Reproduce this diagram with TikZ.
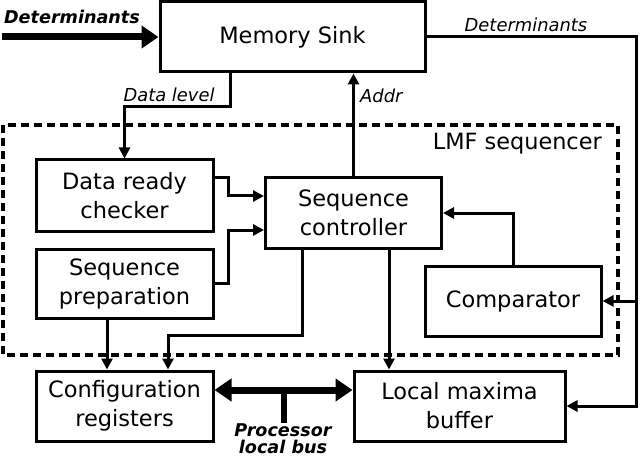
\documentclass[tikz,border=0pt]{standalone}
\usepackage{fontspec}
\setmainfont{DejaVu Sans}
\usetikzlibrary{arrows.meta,calc}
\begin{document}
\begin{tikzpicture}[x=1pt,y=-1pt,
  box/.style={draw,line width=3pt,align=center,inner sep=0pt,
    font=\fontsize{22.5}{29}\selectfont},
  arr/.style={line width=3pt,-{Triangle[length=11pt,width=11pt]}},
  bigarr/.style={line width=7pt,-{Triangle[length=17pt,width=22pt]}},
  busarr/.style={line width=7pt,{Triangle[length=17pt,width=22pt]}-{Triangle[length=17pt,width=22pt]}},
  lbl/.style={inner sep=0pt,font=\fontsize{17.9}{20}\selectfont\itshape},
  blbl/.style={inner sep=0pt,font=\fontsize{17.6}{20}\selectfont\bfseries\itshape},
]
\useasboundingbox (0,0) rectangle (642,457);
% dashed container
\draw[line width=3.5pt,dash pattern=on 8pt off 5pt] (3,125) rectangle (618,355);
\node[inner sep=0pt,anchor=base east,font=\fontsize{22.4}{29}\selectfont] (lmf) at (602,150) {LMF sequencer};
% boxes
\node[box,minimum width=265pt,minimum height=70pt] (ms) at (292.5,37) {Memory Sink};
\node[box,minimum width=177pt,minimum height=71pt] (drc) at (124.5,195.5) {Data ready\\checker};
\node[box,minimum width=177pt,minimum height=69pt] (sp) at (124.5,283.5) {Sequence\\preparation};
\node[box,minimum width=176pt,minimum height=70pt] (sc) at (353.5,213) {Sequence\\controller};
\node[box,minimum width=176pt,minimum height=70pt] (cmp) at (513,301) {Comparator};
\node[box,minimum width=177pt,minimum height=70pt] (cfg) at (124.5,406) {Configuration\\registers};
\node[box,minimum width=211pt,minimum height=70pt] (lmb) at (459.5,406) {Local maxima\\buffer};
% input determinants
\coordinate (din) at (2,37);
\draw[bigarr] (din) -- (ms.west);
\node[blbl,anchor=base] (ldin) at (72,24) {Determinants};
% data level
\coordinate (dl) at (230,107);
\draw[arr] (ms.south -| dl) -- (dl) -| (drc.north);
\node[lbl,anchor=base] (ldl) at (169,102) {Data level};
% into sequence controller
\draw[arr] ($(drc.east)+(0,-17.5)$) -| ($(sc.west)+(-35.5,-17)$) -- ($(sc.west)+(0,-17)$);
\draw[arr] (sp.east) -| ($(sc.west)+(-35.5,17)$) -- ($(sc.west)+(0,17)$);
% addr
\draw[arr] (sc.north) -- (sc.north |- ms.south);
\node[lbl,anchor=base west] (laddr) at (360,103) {Addr};
% sc to lmb
\draw[arr] ($(sc.south)+(35.5,0)$) -- ($(lmb.north)+(-70.5,0)$);
% sc to cfg
\draw[arr] ($(sc.south)+(-51.5,0)$) |- ($(cfg.north)+(43.5,-34)$) -- ($(cfg.north)+(43.5,0)$);
% sp to cfg
\draw[arr] ($(sp.south)+(-17.5,0)$) -- ($(cfg.north)+(-17.5,0)$);
% comparator to sc
\draw[arr] (cmp.north) |- (sc.east);
% determinants right
\coordinate (dr) at (636,37);
\draw[arr] (ms.east) -- (dr) |- (lmb.east);
\draw[arr] (dr |- cmp.east) -- (cmp.east);
\node[lbl,anchor=base] (ldr) at (526,32) {Determinants};
% bus
\draw[busarr] ($(cfg.east)+(0,-16)$) -- ($(lmb.west)+(0,-16)$);
\coordinate (bs) at (284,390);
\coordinate (be) at (284,423);
\draw[line width=6.5pt] (bs) -- (be);
\node[blbl,anchor=base] (lbus) at (283,436) {Processor};
\node[blbl,anchor=base] (lbus2) at (283,453) {local bus};
\end{tikzpicture}
\end{document}
